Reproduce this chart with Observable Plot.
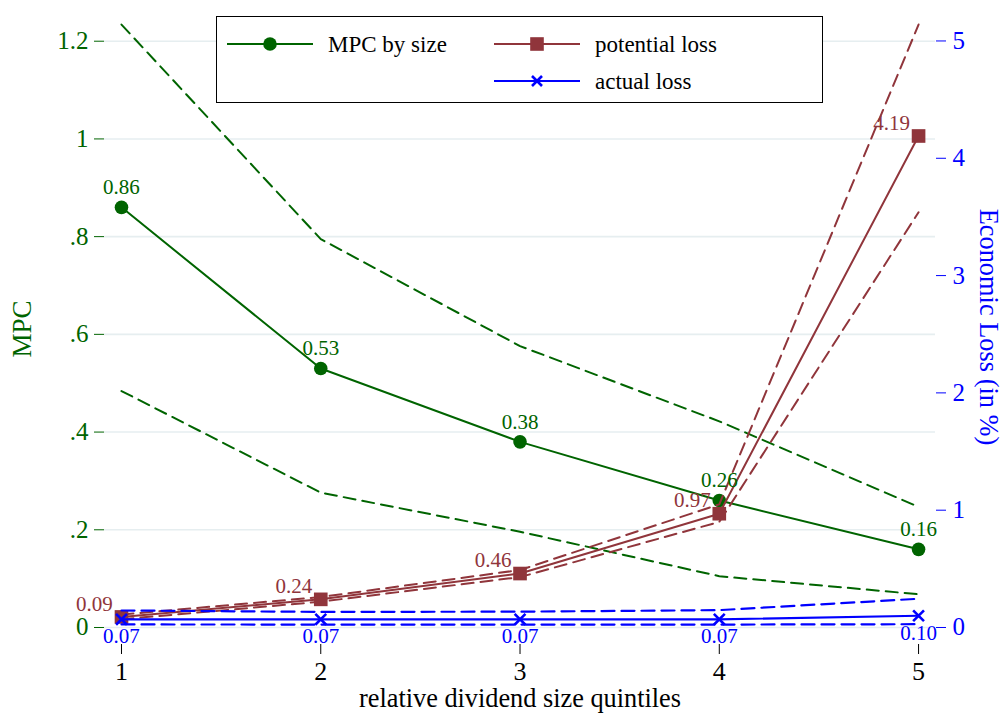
<!DOCTYPE html>
<html>
<head>
<meta charset="utf-8">
<script src="https://cdn.jsdelivr.net/npm/d3@7"></script>
<script src="https://cdn.jsdelivr.net/npm/@observablehq/plot@0.6"></script>
<style>
  html, body { margin: 0; padding: 0; background: #fff; }
  #wrap { position: relative; width: 1007px; height: 717px; font-family: "Liberation Serif", "DejaVu Serif", serif; }
  #legend { position: absolute; left: 216px; top: 16px; width: 607px; height: 87px; border: 1.5px solid #000; background: #fff; box-sizing: border-box; }
</style>
</head>
<body>
<div id="wrap"></div>
<script>
// ---- data ----
const quintiles = [1, 2, 3, 4, 5];
const mpc      = [0.86, 0.53, 0.38, 0.26, 0.16];
const mpcUpper = [1.234, 0.795, 0.576, 0.422, 0.247];
const mpcLower = [0.484, 0.276, 0.196, 0.105, 0.068];
const potLoss  = [0.09, 0.24, 0.46, 0.97, 4.19];
const potUpper = [0.11, 0.26, 0.49, 1.05, 5.14];
const potLower = [0.07, 0.22, 0.43, 0.90, 3.54];
const actLoss  = [0.07, 0.07, 0.07, 0.07, 0.10];
const actUpper = [0.145, 0.133, 0.135, 0.148, 0.245];
const actLower = [0.026, 0.025, 0.025, 0.025, 0.028];
const leftTicks = [0, 0.2, 0.4, 0.6, 0.8, 1.0, 1.2];
const leftTickLabels = ["0", ".2", ".4", ".6", ".8", "1", "1.2"];
const rightTicks = [0, 1, 2, 3, 4, 5];
const seriesNames = ["MPC by size", "potential loss", "actual loss"];
const xTitle = "relative dividend size quintiles";
const leftTitle = "MPC";
const rightTitle = "Economic Loss (in %)";

// ---- styling ----
const green = "#006400", maroon = "#90353B", blue = "#0000ff", grid = "#e6eef0";
const k = 0.2401; // right-axis units mapped into left-axis units

const rows = quintiles.map((q, i) => ({
  q, mpc: mpc[i], mpcUpper: mpcUpper[i], mpcLower: mpcLower[i],
  pot: potLoss[i] * k, potU: potUpper[i] * k, potL: potLower[i] * k, potRaw: potLoss[i],
  act: actLoss[i] * k, actU: actUpper[i] * k, actL: actLower[i] * k, actRaw: actLoss[i]
}));

const fontSize = 25;
const chart = Plot.plot({
  width: 1007, height: 717,
  marginLeft: 104, marginRight: 72, marginTop: 7, marginBottom: 73,
  style: { fontFamily: "'Liberation Serif', serif", background: "#fff" },
  x: { domain: [0.9147, 5.085] },
  y: { domain: [-0.0348, 1.269] },
  marks: [
    Plot.ruleY(leftTicks, { stroke: grid, strokeWidth: 1.6 }),
    // MPC
    Plot.line(rows, { x: "q", y: "mpcUpper", stroke: green, strokeWidth: 2, strokeDasharray: "12,7" }),
    Plot.line(rows, { x: "q", y: "mpcLower", stroke: green, strokeWidth: 2, strokeDasharray: "12,7" }),
    Plot.line(rows, { x: "q", y: "mpc", stroke: green, strokeWidth: 2 }),
    Plot.dot(rows, { x: "q", y: "mpc", r: 6.8, fill: green, symbol: "circle" }),
    // potential loss
    Plot.line(rows, { x: "q", y: "potU", stroke: maroon, strokeWidth: 2, strokeDasharray: "12,7" }),
    Plot.line(rows, { x: "q", y: "potL", stroke: maroon, strokeWidth: 2, strokeDasharray: "12,7" }),
    Plot.line(rows, { x: "q", y: "pot", stroke: maroon, strokeWidth: 2 }),
    Plot.dot(rows, { x: "q", y: "pot", r: 7.7, fill: maroon, symbol: "square" }),
    // actual loss
    Plot.line(rows, { x: "q", y: "actU", stroke: blue, strokeWidth: 2.2, strokeDasharray: "13,7" }),
    Plot.line(rows, { x: "q", y: "actL", stroke: blue, strokeWidth: 2.2, strokeDasharray: "13,7" }),
    Plot.line(rows, { x: "q", y: "act", stroke: blue, strokeWidth: 2.2 }),
    Plot.dot(rows, { x: "q", y: "act", r: 5, stroke: blue, strokeWidth: 2.6, symbol: "times" }),
    // value labels
    Plot.text(rows, { x: "q", y: "mpc", text: d => d.mpc.toFixed(2), dy: -20, fill: green, fontSize: 21 }),
    Plot.text(rows, { x: "q", y: "pot", text: d => d.potRaw.toFixed(2), dx: -27, dy: -13, fill: maroon, fontSize: 21 }),
    Plot.text(rows, { x: "q", y: "act", text: d => d.actRaw.toFixed(2), dy: 17, fill: blue, fontSize: 21 }),
    // axes
    Plot.axisY({ anchor: "left", ticks: leftTicks, tickFormat: d => leftTickLabels[leftTicks.findIndex(t => Math.abs(t - d) < 1e-9)],
      color: green, tickSize: 10, tickPadding: 6, fontSize, label: null, line: true }),
    Plot.axisY({ anchor: "right", ticks: rightTicks.map(v => v * k), tickFormat: d => String(Math.round(d / k)),
      color: blue, tickSize: 10, tickPadding: 7, fontSize, label: null, line: true }),
    Plot.axisX({ anchor: "bottom", ticks: quintiles, tickFormat: d => String(d),
      color: "#000", tickSize: 10, tickPadding: 7, fontSize: 26, label: null, line: true }),
    // titles
    Plot.text([xTitle], { frameAnchor: "bottom", dy: 62, fontSize: 26.3, fill: "#000" }),
    Plot.text([leftTitle], { frameAnchor: "left", textAnchor: "middle", dx: -82, dy: 3, rotate: -90, fontSize: 27, fill: green }),
    Plot.text([rightTitle], { frameAnchor: "right", textAnchor: "middle", dx: 53, dy: 1, rotate: 90, fontSize: 26.4, fill: blue })
  ]
});

const wrap = document.getElementById("wrap");
wrap.appendChild(chart);

// legend (HTML overlay)
const legend = document.createElement("div");
legend.id = "legend";
const ns = "http://www.w3.org/2000/svg";
const lsvg = document.createElementNS(ns, "svg");
lsvg.setAttribute("width", 604); lsvg.setAttribute("height", 84);
lsvg.style.position = "absolute"; lsvg.style.left = "0"; lsvg.style.top = "0";
const items = [
  { name: seriesNames[0], color: green, sym: "circle", x: 10, y: 27 },
  { name: seriesNames[1], color: maroon, sym: "square", x: 277, y: 27 },
  { name: seriesNames[2], color: blue, sym: "times", x: 277, y: 64 }
];
for (const it of items) {
  const ln = document.createElementNS(ns, "line");
  ln.setAttribute("x1", it.x); ln.setAttribute("x2", it.x + 86);
  ln.setAttribute("y1", it.y); ln.setAttribute("y2", it.y);
  ln.setAttribute("stroke", it.color); ln.setAttribute("stroke-width", 2);
  lsvg.appendChild(ln);
  const cx = it.x + 43;
  if (it.sym === "circle") {
    const c = document.createElementNS(ns, "circle");
    c.setAttribute("cx", cx); c.setAttribute("cy", it.y); c.setAttribute("r", 6.8);
    c.setAttribute("fill", it.color); lsvg.appendChild(c);
  } else if (it.sym === "square") {
    const r = document.createElementNS(ns, "rect");
    r.setAttribute("x", cx - 6.8); r.setAttribute("y", it.y - 6.8);
    r.setAttribute("width", 13.6); r.setAttribute("height", 13.6);
    r.setAttribute("fill", it.color); lsvg.appendChild(r);
  } else {
    const p = document.createElementNS(ns, "path");
    p.setAttribute("d", `M${cx-5},${it.y-5}L${cx+5},${it.y+5}M${cx-5},${it.y+5}L${cx+5},${it.y-5}`);
    p.setAttribute("stroke", it.color); p.setAttribute("stroke-width", 2.6); lsvg.appendChild(p);
  }
  const t = document.createElementNS(ns, "text");
  t.setAttribute("x", it.x + 101); t.setAttribute("y", it.y);
  t.setAttribute("dominant-baseline", "central");
  t.setAttribute("font-family", "'Liberation Serif', serif");
  t.setAttribute("font-size", 23);
  t.textContent = it.name;
  lsvg.appendChild(t);
}
legend.appendChild(lsvg);
wrap.appendChild(legend);
</script>
</body>
</html>
